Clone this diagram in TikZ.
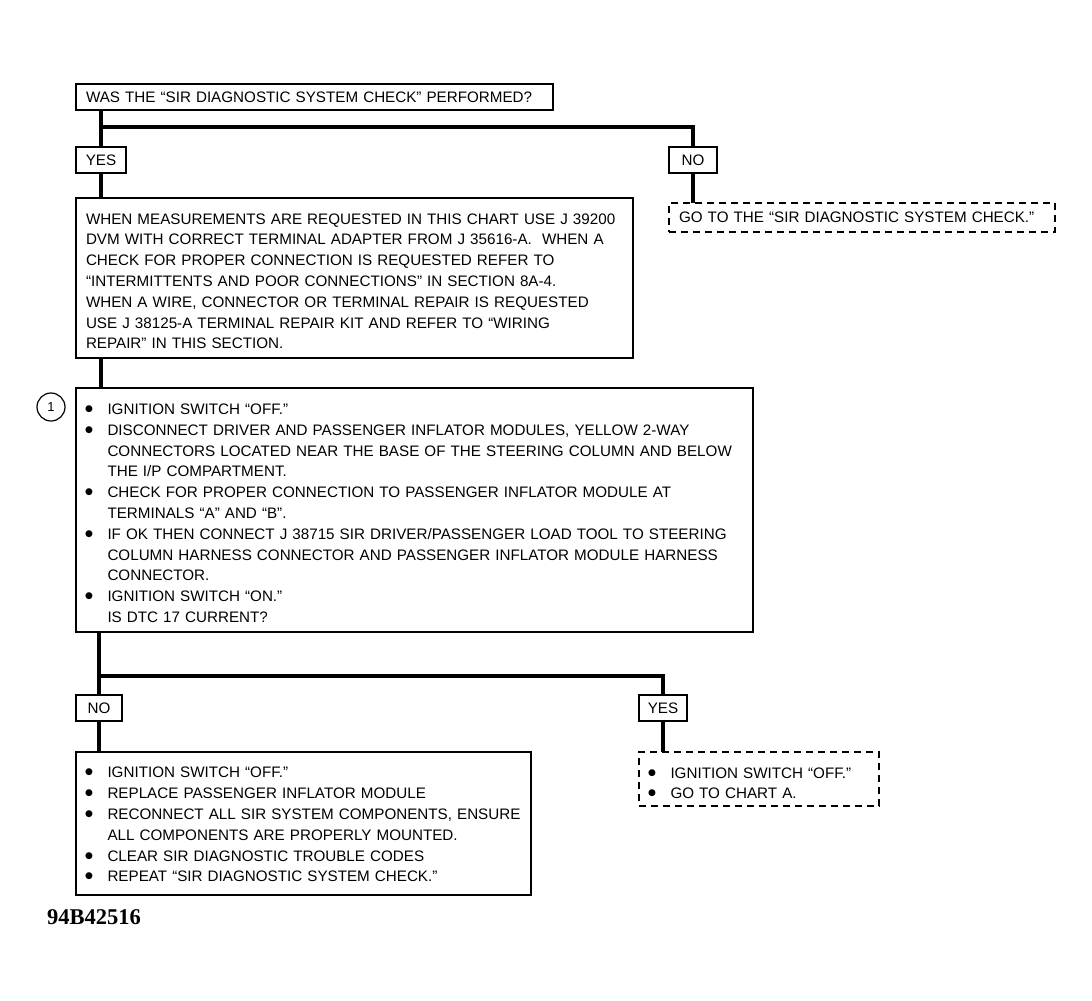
\documentclass[tikz,border=0pt]{standalone}
\usepackage{fontspec}
\setmainfont{Liberation Sans}
\newfontfamily\codefont{Liberation Serif}
\newfontfamily\dotfont{DejaVu Sans}
\usetikzlibrary{positioning}

\newcommand{\bitem}{\makebox[22.5pt][l]{\raisebox{3pt}{\dotfont\fontsize{9}{9}\selectfont ●}}}
\newcommand{\bcont}{\hspace*{22.5pt}}

\begin{document}
\begin{tikzpicture}[x=1pt, y=-1pt,
    every node/.style={font=\fontsize{15.2}{20.8}\selectfont}]
	\tikzstyle{box}
	  =[draw, line width=1.2pt, rectangle, align=left, outer sep=0pt,
	  inner xsep=10pt, inner ysep=0pt, anchor=north west]
	\tikzstyle{bulletbox}
	  =[box, inner xsep=9pt]
	\tikzstyle{dbox}
	  =[box, dash pattern=on 7pt off 5pt]
	\tikzstyle{tag}
	  =[draw, line width=1.2pt, rectangle, inner sep=0pt, outer sep=0pt,
	  minimum height=26pt, anchor=north west]
	\tikzstyle{trunk}
	  =[line width=4pt]

	\useasboundingbox (0,0) rectangle (1092,1001);

	% left column
	\node[box, text width=457pt, minimum height=26pt] (q1)
	  at (76,84) {WAS THE “SIR DIAGNOSTIC SYSTEM CHECK” PERFORMED?};
	\node[tag, minimum width=50pt] (yes1)
	  [below=37pt of q1.south west, anchor=north west] {YES};
	\node[box, text width=537pt, minimum height=160pt, text height=17pt] (info)
	  [below=25pt of yes1.south west, anchor=north west]
	  {WHEN MEASUREMENTS ARE REQUESTED IN THIS CHART USE J 39200\\
	   DVM WITH CORRECT TERMINAL ADAPTER FROM J 35616-A.\ \ WHEN A\\
	   CHECK FOR PROPER CONNECTION IS REQUESTED REFER TO\\
	   “INTERMITTENTS AND POOR CONNECTIONS” IN SECTION 8A-4.\\
	   WHEN A WIRE, CONNECTOR OR TERMINAL REPAIR IS REQUESTED\\
	   USE J 38125-A TERMINAL REPAIR KIT AND REFER TO “WIRING\\
	   REPAIR” IN THIS SECTION.};
	\node[bulletbox, text width=659pt, minimum height=244pt, text height=17pt] (step)
	  [below=30pt of info.south west, anchor=north west]
	  {\bitem IGNITION SWITCH “OFF.”\\
	   \bitem DISCONNECT DRIVER AND PASSENGER INFLATOR MODULES, YELLOW 2-WAY\\
	   \bcont CONNECTORS LOCATED NEAR THE BASE OF THE STEERING COLUMN AND BELOW\\
	   \bcont THE I/P COMPARTMENT.\\
	   \bitem CHECK FOR PROPER CONNECTION TO PASSENGER INFLATOR MODULE AT\\
	   \bcont TERMINALS “A” AND “B”.\\
	   \bitem IF OK THEN CONNECT J 38715 SIR DRIVER/PASSENGER LOAD TOOL TO STEERING\\
	   \bcont COLUMN HARNESS CONNECTOR AND PASSENGER INFLATOR MODULE HARNESS\\
	   \bcont CONNECTOR.\\
	   \bitem IGNITION SWITCH “ON.”\\
	   \bcont IS DTC 17 CURRENT?};
	\node[draw, line width=1.2pt, circle, minimum size=28pt, inner sep=0pt,
	  font=\fontsize{13}{15}\selectfont] (one)
	  at (51,407) {1};
	\node[tag, minimum width=46pt] (no2)
	  [below=63pt of step.south west, anchor=north west] {NO};
	\node[bulletbox, text width=437pt, minimum height=143pt, text height=13pt] (fix)
	  [below=31pt of no2.south west, anchor=north west]
	  {\bitem IGNITION SWITCH “OFF.”\\
	   \bitem REPLACE PASSENGER INFLATOR MODULE\\
	   \bitem RECONNECT ALL SIR SYSTEM COMPONENTS, ENSURE\\
	   \bcont ALL COMPONENTS ARE PROPERLY MOUNTED.\\
	   \bitem CLEAR SIR DIAGNOSTIC TROUBLE CODES\\
	   \bitem REPEAT “SIR DIAGNOSTIC SYSTEM CHECK.”};

	% right column
	\node[tag, minimum width=48pt] (no1)
	  at (669,147) {NO};
	\node[dbox, text width=366pt, minimum height=29pt] (goto)
	  [below=30pt of no1.south west, anchor=north west]
	  {GO TO THE “SIR DIAGNOSTIC SYSTEM CHECK.”};
	\node[tag, minimum width=48pt] (yes2)
	  [right=517pt of no2.north east, anchor=north west] {YES};
	\node[dbox, inner xsep=9pt, text width=222pt, minimum height=54pt, text height=19pt] (chart)
	  [below=31pt of yes2.south west, anchor=north west]
	  {\bitem IGNITION SWITCH “OFF.”\\
	   \bitem GO TO CHART A.};

	\node[anchor=west, inner sep=0pt,
	  font=\codefont\bfseries\fontsize{22.5}{25}\selectfont] (code)
	  at (47,917) {94B42516};

	% connectors
	\coordinate (fork1) at (yes1.north |- 0,127);
	\coordinate (fork2) at (no2.north |- 0,676);
	\draw[trunk] (yes1.north |- q1.south) -- (yes1.north);
	\draw[trunk] (fork1) -| (no1.north);
	\draw[trunk] (yes1.south) -- (yes1.south |- info.north);
	\draw[trunk] (no1.south) -- (no1.south |- goto.north);
	\draw[trunk] (yes1.south |- info.south) -- (yes1.south |- step.north);
	\draw[trunk] (no2.north |- step.south) -- (no2.north);
	\draw[trunk] (fork2) -| (yes2.north);
	\draw[trunk] (no2.south) -- (no2.south |- fix.north);
	\draw[trunk] (yes2.south) -- (yes2.south |- chart.north);
\end{tikzpicture}
\end{document}
